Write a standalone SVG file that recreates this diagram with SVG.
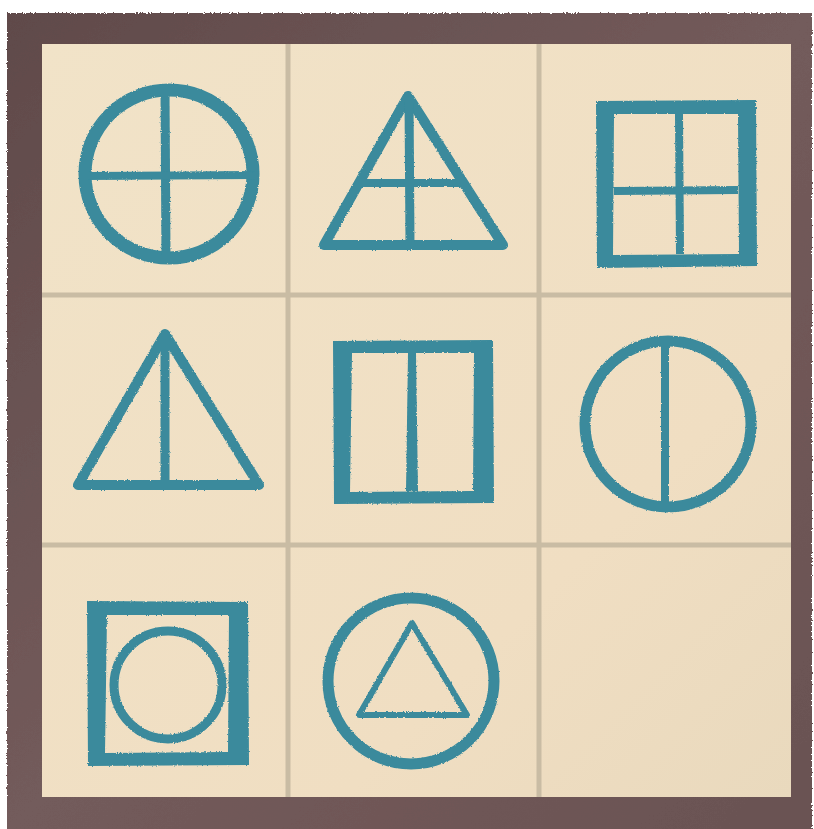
<svg xmlns="http://www.w3.org/2000/svg" width="814" height="829" viewBox="0 0 814 829">
<defs>
<linearGradient id="frameGrad" x1="0" y1="0" x2="1" y2="1">
<stop offset="0" stop-color="#604a4a"/>
<stop offset="0.5" stop-color="#735b5b"/>
<stop offset="1" stop-color="#6a5252"/>
</linearGradient>
<linearGradient id="paperGrad" x1="0" y1="0" x2="1" y2="1">
<stop offset="0" stop-color="#f1e3c8"/>
<stop offset="0.7" stop-color="#f0dec2"/>
<stop offset="1" stop-color="#e9d9bd"/>
</linearGradient>
<filter id="rough" x="-5%" y="-5%" width="110%" height="110%">
<feTurbulence type="fractalNoise" baseFrequency="0.8" numOctaves="2" seed="3" result="n"/>
<feDisplacementMap in="SourceGraphic" in2="n" scale="2.5" xChannelSelector="R" yChannelSelector="G"/>
</filter>
<filter id="roughFrame" x="-2%" y="-2%" width="104%" height="104%">
<feTurbulence type="fractalNoise" baseFrequency="0.6" numOctaves="2" seed="7" result="n"/>
<feDisplacementMap in="SourceGraphic" in2="n" scale="3" xChannelSelector="R" yChannelSelector="G"/>
</filter>
</defs>
<style>
.ink{fill:none;stroke:#3a8a9c;stroke-linejoin:round}
.inkf{fill:#3a8a9c;fill-rule:evenodd}
.grid{stroke:#c9bca4;stroke-width:5}
</style>
<rect width="814" height="829" fill="#ffffff"/>
<g id="frame">
<rect x="7" y="13" width="805" height="818" fill="url(#frameGrad)" filter="url(#roughFrame)"/>
<rect x="42" y="44" width="749" height="753" fill="url(#paperGrad)"/>
</g>
<g id="grid">
<line class="grid" x1="288" y1="44" x2="288" y2="797"/>
<line class="grid" x1="539" y1="44" x2="539" y2="797"/>
<line class="grid" x1="42" y1="295" x2="791" y2="295"/>
<line class="grid" x1="42" y1="545" x2="791" y2="545"/>
</g>
<g filter="url(#rough)">
<g id="cell-1-1">
<circle class="ink" cx="169" cy="174" r="84" stroke-width="13"/>
<line class="ink" x1="165" y1="90" x2="166" y2="258" stroke-width="9"/>
<line class="ink" x1="86" y1="176" x2="257" y2="175" stroke-width="8"/>
</g>
<g id="cell-1-2">
<polygon class="ink" points="408,96 324,245 503,245" stroke-width="10"/>
<line class="ink" x1="409" y1="98" x2="410" y2="244" stroke-width="9"/>
<line class="ink" x1="358" y1="183" x2="464" y2="183" stroke-width="8"/>
</g>
<g id="cell-1-3">
<path class="inkf" d="M596,101 L756,100 L757,266 L597,268 Z M614,114 L738,114 L739,254 L613,255 Z"/>
<line class="ink" x1="679" y1="114" x2="680" y2="254" stroke-width="8"/>
<line class="ink" x1="614" y1="191" x2="738" y2="190" stroke-width="8"/>
</g>
<g id="cell-2-1">
<polygon class="ink" points="165,334 78,485 259,485" stroke-width="10"/>
<line class="ink" x1="165" y1="336" x2="165" y2="484" stroke-width="9"/>
</g>
<g id="cell-2-2">
<path class="inkf" d="M333,341 L493,340 L494,503 L334,504 Z M352,353 L474,353 L473,491 L350,492 Z"/>
<path class="inkf" d="M408,353 L416,353 L418,491 L406,491 Z"/>
</g>
<g id="cell-2-3">
<circle class="ink" cx="668" cy="424" r="83" stroke-width="11"/>
<line class="ink" x1="665" y1="340" x2="665" y2="508" stroke-width="8"/>
</g>
<g id="cell-3-1">
<path class="inkf" d="M87,601 L248,602 L249,765 L88,766 Z M107,615 L229,615 L228,752 L105,753 Z"/>
<circle class="ink" cx="168" cy="685" r="54" stroke-width="9"/>
</g>
<g id="cell-3-2">
<circle class="ink" cx="411" cy="681" r="83" stroke-width="11"/>
<polygon class="ink" points="412,623 359,715 467,715" stroke-width="6"/>
</g>
</g>
<g id="cell-3-3"/>
</svg>
